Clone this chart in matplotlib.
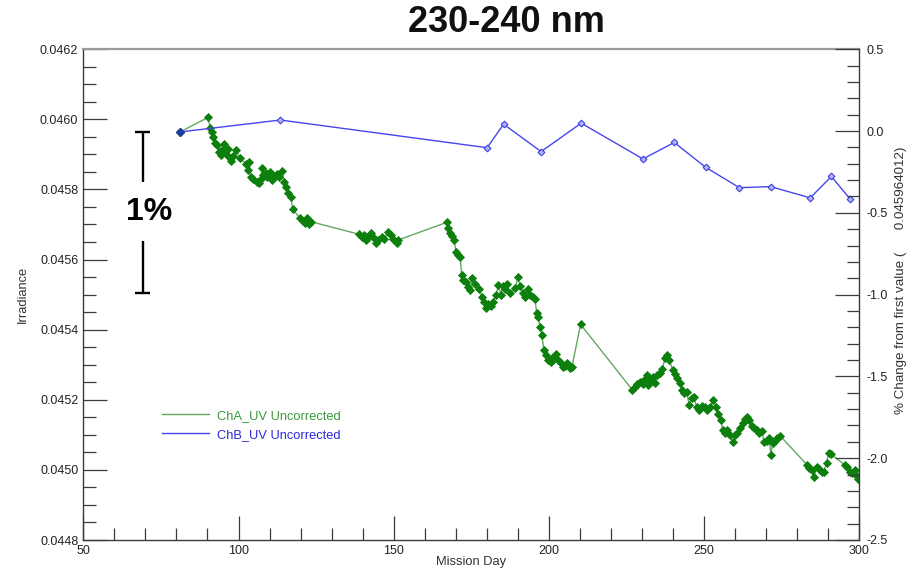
import matplotlib
matplotlib.use('Agg')
import matplotlib.pyplot as plt
from matplotlib.ticker import MultipleLocator, FormatStrFormatter
from matplotlib.lines import Line2D

plt.rcParams['font.family'] = ['Liberation Sans', 'DejaVu Sans']
plt.rcParams['axes.unicode_minus'] = False

# ---------------- data ----------------
title = '230-240 nm'
first_value = 0.045964012

cha_label = 'ChA_UV Uncorrected'
cha_day = [
    81.2, 90.3, 90.8, 91.4, 91.9, 92.4, 93.2, 93.8, 94.4, 94.9,
    95.3, 95.8, 96.5, 97.0, 97.5, 98.1, 99.2, 100.5, 102.4, 103.2,
    103.5, 103.9, 104.8, 105.9, 106.5, 107.2, 107.5, 108.0, 108.9, 109.3,
    110.2, 110.7, 111.8, 112.5, 113.1, 114.1, 114.7, 115.3, 116.0, 116.8,
    117.5, 119.8, 120.7, 121.4, 122.2, 122.8, 123.3, 138.9, 139.7, 140.4,
    141.1, 141.8, 142.6, 143.4, 144.3, 145.0, 146.1, 146.9, 148.3, 149.0,
    149.9, 151.0, 151.5, 167.1, 167.6, 168.1, 168.7, 169.4, 170.1, 170.8,
    171.4, 171.9, 172.4, 173.3, 174.0, 174.6, 175.3, 176.2, 177.6, 178.4,
    179.1, 179.7, 180.5, 181.3, 182.1, 183.0, 183.7, 184.5, 185.1, 185.9,
    186.4, 187.5, 189.1, 190.0, 190.7, 191.6, 192.3, 193.2, 193.9, 194.8,
    195.5, 196.1, 196.6, 197.1, 197.7, 198.4, 199.1, 199.8, 200.6, 201.4,
    202.3, 203.0, 203.8, 204.5, 205.2, 205.9, 206.8, 207.4, 210.2, 226.9,
    227.7, 228.5, 229.3, 230.2, 231.0, 231.5, 232.0, 232.8, 233.6, 234.2,
    234.9, 235.8, 236.5, 237.4, 238.1, 238.8, 239.9, 240.6, 241.4, 242.2,
    242.8, 243.5, 244.4, 245.2, 246.0, 246.7, 247.6, 248.5, 249.2, 250.3,
    251.0, 251.9, 253.0, 253.8, 254.6, 255.4, 256.0, 256.7, 257.5, 258.3,
    259.2, 260.0, 260.7, 261.6, 262.4, 263.2, 263.9, 264.6, 265.3, 266.1,
    266.9, 267.8, 268.6, 269.3, 270.2, 271.0, 271.5, 272.1, 272.8, 273.6,
    274.5, 283.2, 283.9, 284.7, 285.4, 286.3, 287.1, 287.9, 288.6, 289.5,
    290.1, 290.8, 295.4, 296.1, 297.0, 297.7, 298.6, 299.2, 299.7,
]
cha_irr = [
    0.045964, 0.046006, 0.045974, 0.045965, 0.045950, 0.045932, 0.045927, 0.045908, 0.045898, 0.045914,
    0.045930, 0.045903, 0.045914, 0.045892, 0.045882, 0.045895, 0.045912, 0.045889, 0.045873, 0.045855,
    0.045879, 0.045835, 0.045829, 0.045822, 0.045819, 0.045831, 0.045860, 0.045841, 0.045846, 0.045835,
    0.045851, 0.045827, 0.045838, 0.045844, 0.045835, 0.045853, 0.045822, 0.045806, 0.045791, 0.045779,
    0.045743, 0.045718, 0.045710, 0.045703, 0.045718, 0.045701, 0.045708, 0.045672, 0.045663, 0.045670,
    0.045656, 0.045663, 0.045675, 0.045663, 0.045646, 0.045656, 0.045665, 0.045658, 0.045679, 0.045670,
    0.045658, 0.045646, 0.045656, 0.045706, 0.045689, 0.045677, 0.045667, 0.045656, 0.045622, 0.045613,
    0.045606, 0.045556, 0.045542, 0.045537, 0.045523, 0.045513, 0.045548, 0.045530, 0.045515, 0.045492,
    0.045480, 0.045461, 0.045473, 0.045468, 0.045480, 0.045499, 0.045527, 0.045499, 0.045525, 0.045515,
    0.045530, 0.045504, 0.045518, 0.045549, 0.045525, 0.045505, 0.045494, 0.045515, 0.045499, 0.045492,
    0.045487, 0.045447, 0.045437, 0.045408, 0.045385, 0.045342, 0.045328, 0.045313, 0.045309, 0.045323,
    0.045331, 0.045313, 0.045306, 0.045293, 0.045296, 0.045304, 0.045290, 0.045293, 0.045415, 0.045228,
    0.045237, 0.045245, 0.045252, 0.045245, 0.045258, 0.045271, 0.045242, 0.045256, 0.045264, 0.045247,
    0.045271, 0.045276, 0.045287, 0.045318, 0.045328, 0.045313, 0.045285, 0.045274, 0.045261, 0.045247,
    0.045228, 0.045219, 0.045223, 0.045185, 0.045204, 0.045207, 0.045180, 0.045171, 0.045182, 0.045179,
    0.045171, 0.045179, 0.045199, 0.045179, 0.045159, 0.045142, 0.045114, 0.045104, 0.045114, 0.045100,
    0.045080, 0.045100, 0.045104, 0.045119, 0.045133, 0.045144, 0.045150, 0.045142, 0.045125, 0.045119,
    0.045114, 0.045104, 0.045112, 0.045080, 0.045083, 0.045090, 0.045043, 0.045076, 0.045083, 0.045090,
    0.045097, 0.045014, 0.045005, 0.045000, 0.044981, 0.045007, 0.045002, 0.044995, 0.044995, 0.045021,
    0.045047, 0.045045, 0.045014, 0.045009, 0.044995, 0.044990, 0.045000, 0.044983, 0.044973,
]

chb_label = 'ChB_UV Uncorrected'
chb_day = [81.2, 113.5, 180.1, 185.4, 197.5, 210.4, 230.3, 240.4, 250.5, 261.4, 271.4, 284.2, 291.0, 297.1]
chb_irr = [0.045964, 0.045998, 0.045919, 0.045986, 0.045908, 0.045989, 0.045887, 0.045934,
           0.045863, 0.045805, 0.045808, 0.045776, 0.045837, 0.045772]

x_range = (50, 300)
y_range = (0.0448, 0.0462)
pct_range = (-2.5, 0.5)

# ---------------- style ----------------
green_line = '#62a862'
green_mark = '#0d7f0d'
green_text = '#3c9a3c'
blue_line = '#4646ee'
blue_face = '#b4b4ff'
blue_edge = '#3d3de0'
blue_first = '#1e3c9c'
blue_text = '#2c2cd6'
axis_col = '#3a3a3a'

W, H = 911, 570
fig = plt.figure(figsize=(W / 100, H / 100), dpi=100)
L, R, T, B = 83.3, 859.3, 49.2, 540.0
ax = fig.add_axes([L / W, 1 - B / H, (R - L) / W, (B - T) / H])

ax.plot(cha_day, cha_irr, color=green_line, lw=1.0, zorder=2)
ax.plot(cha_day, cha_irr, ls='none', marker='D', ms=3.8, mfc=green_mark, mec=green_mark, mew=0.6, zorder=3)
ax.plot(chb_day, chb_irr, color=blue_line, lw=1.0, marker='D', ms=3.4,
        mfc=blue_face, mec=blue_edge, mew=0.8, zorder=4)
ax.plot(chb_day[:1], chb_irr[:1], ls='none', marker='D', ms=3.6, mfc=blue_first, mec=blue_first, zorder=5)

ax.set_xlim(*x_range)
ax.set_ylim(*y_range)
ax.xaxis.set_major_locator(MultipleLocator(50))
ax.xaxis.set_minor_locator(MultipleLocator(10))
ax.yaxis.set_major_locator(MultipleLocator(0.0002))
ax.yaxis.set_minor_locator(MultipleLocator(0.00005))
ax.yaxis.set_major_formatter(FormatStrFormatter('%.4f'))
ax.tick_params(which='both', direction='in', top=False, right=False, colors=axis_col,
               labelsize=9, width=0.9, labelcolor='#222')
ax.tick_params(which='major', length=17.5)
ax.tick_params(which='minor', length=9)
ax.tick_params(axis='y', pad=3.6)
ax.tick_params(axis='x', pad=3.5)

for s in ('left', 'bottom'):
    ax.spines[s].set_color(axis_col)
    ax.spines[s].set_linewidth(1.0)
ax.spines['top'].set_color('#9a9a9a')
ax.spines['top'].set_linewidth(1.6)
ax.spines['right'].set_visible(False)

ax2 = ax.twinx()
ax2.set_ylim(*pct_range)
ax2.yaxis.set_major_locator(MultipleLocator(0.5))
ax2.yaxis.set_minor_locator(MultipleLocator(0.1))
ax2.yaxis.set_major_formatter(FormatStrFormatter('%.1f'))
ax2.tick_params(which='both', direction='in', colors=axis_col, labelsize=9, width=0.9,
                labelcolor='#222', pad=5)
ax2.tick_params(which='major', length=17.5)
ax2.tick_params(which='minor', length=9)
for s in ('left', 'bottom', 'top'):
    ax2.spines[s].set_visible(False)
ax2.spines['right'].set_color(axis_col)
ax2.spines['right'].set_linewidth(1.0)

# labels
ax.set_ylabel('Irradiance', fontsize=9.3, color='#333')
ax.yaxis.label.set_va('center')
ax.yaxis.set_label_coords((23 - L) / (R - L), 0.5)
ax.set_xlabel('Mission Day', fontsize=9.3, color='#333')
ax.xaxis.label.set_va('center')
ax.xaxis.set_label_coords(0.4996, (B - 561.7) / (B - T))
right_label = '% Change from first value (      ' + ('%.9f' % first_value) + ')'
ax2.set_ylabel(right_label, fontsize=9.6, color='#333')
ax2.yaxis.label.set_va('center')
ax2.yaxis.set_label_coords((900.7 - L) / (R - L), 0.53)

fig.text(506 / W, 1 - 23 / H, title, ha='center', va='center', fontsize=26,
         fontweight='bold', color='#111')

# 1% scale bracket (from first value down to 99% of it)
bar_day = 69.1
cap_half = 2.5
gap_hi, gap_lo = 0.045821, 0.045653
bar_top = first_value
bar_bot = first_value * 0.99
kw = dict(color='black', lw=1.7, solid_capstyle='butt', clip_on=False, zorder=6)
ax.plot([bar_day, bar_day], [bar_top, gap_hi], **kw)
ax.plot([bar_day, bar_day], [gap_lo, bar_bot], **kw)
ax.plot([bar_day - cap_half, bar_day + cap_half], [bar_top, bar_top], **kw)
ax.plot([bar_day - cap_half, bar_day + cap_half], [bar_bot, bar_bot], **kw)
ax.text(71.2, (gap_hi + gap_lo) / 2, '1%', ha='center', va='center', fontsize=23,
        fontweight='bold', color='black')

# legend
handles = [Line2D([], [], color=green_line, lw=1.0), Line2D([], [], color=blue_line, lw=1.0)]
leg = ax.legend(handles, [cha_label, chb_label], loc='center left',
                bbox_to_anchor=(161.7 / W, 1 - 425.3 / H), bbox_transform=fig.transFigure,
                frameon=False, fontsize=9.3, handlelength=3.7, handletextpad=0.55,
                labelspacing=0.55, borderpad=0, borderaxespad=0,
                labelcolor=[green_text, blue_text])

fig.savefig('out.png', dpi=100)
